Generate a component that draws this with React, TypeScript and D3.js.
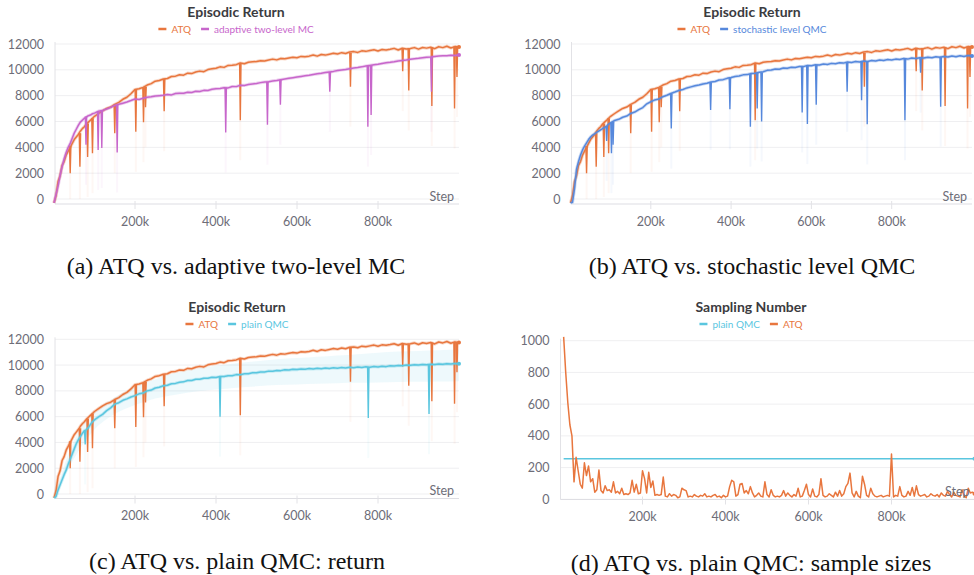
import React from 'react';
import * as d3 from 'd3';

// steps are in thousands
const returnSteps = [...d3.range(0, 100, 5), ...d3.range(100, 1001, 10)];

const atqReturn = [
  -300, 250, 1350, 1800, 2600, 2900, 3400, 3700, 4000, 4300,
  4600, 4800, 5000, 5250, 5450, 5600, 5800, 5950, 6100, 6250,
  6400, 6620, 6830, 7010, 7120, 7330, 7480, 7720, 7880, 8150,
  8480, 8530, 8640, 8820, 8930, 9120, 9180, 9290, 9330, 9480,
  9510, 9620, 9590, 9740, 9710, 9830, 9900, 9860, 10020, 10080,
  10120, 10230, 10190, 10340, 10360, 10400, 10530, 10470, 10590, 10620,
  10640, 10710, 10690, 10760, 10830, 10770, 10880, 10850, 10920, 10970,
  10930, 11040, 11010, 11060, 11150, 11060, 11190, 11140, 11210, 11280,
  11230, 11330, 11270, 11380, 11410, 11350, 11470, 11430, 11490, 11550,
  11460, 11570, 11530, 11590, 11660, 11540, 11670, 11610, 11650, 11720,
  11600, 11730, 11680, 11750, 11640, 11790, 11720, 11830, 11690, 11800,
  11760,
];

const mcReturn = [
  -300, 350, 1000, 1800, 2500, 3100, 3600, 4000, 4300, 4700,
  5100, 5400, 5700, 5950, 6100, 6250, 6350, 6450, 6500, 6600,
  6650, 6800, 6860, 6970, 7090, 7250, 7330, 7420, 7510, 7620,
  7740, 7710, 7800, 7870, 7910, 7970, 8000, 8030, 8090, 8060,
  8170, 8190, 8180, 8270, 8250, 8340, 8330, 8410, 8400, 8490,
  8540, 8550, 8620, 8600, 8710, 8700, 8800, 8790, 8870, 8910,
  8950, 9010, 9050, 9080, 9140, 9180, 9240, 9290, 9340, 9390,
  9440, 9490, 9540, 9580, 9640, 9690, 9730, 9790, 9840, 9880,
  9940, 9990, 10030, 10090, 10140, 10180, 10230, 10290, 10340, 10390,
  10430, 10490, 10540, 10580, 10630, 10690, 10730, 10770, 10820, 10860,
  10890, 10930, 10970, 11000, 11040, 11070, 11090, 11090, 11120, 11110,
  11150,
];

const slqmcReturn = [
  -300, -250, 800, 2300, 2900, 3400, 3800, 4100, 4350, 4600,
  4800, 4950, 5050, 5150, 5250, 5350, 5450, 5550, 5650, 5800,
  5900, 6080, 6170, 6330, 6420, 6620, 6730, 6920, 7080, 7370,
  7530, 7670, 7740, 7920, 8030, 8170, 8280, 8400, 8480, 8600,
  8680, 8760, 8830, 8910, 8960, 9060, 9100, 9210, 9240, 9340,
  9400, 9490, 9530, 9610, 9630, 9720, 9730, 9810, 9850, 9960,
  9980, 10060, 10050, 10140, 10120, 10200, 10180, 10260, 10250, 10330,
  10320, 10390, 10370, 10450, 10420, 10500, 10470, 10550, 10520, 10600,
  10570, 10640, 10610, 10680, 10650, 10720, 10690, 10760, 10730, 10800,
  10760, 10830, 10800, 10870, 10830, 10910, 10870, 10940, 10910, 10980,
  10940, 11010, 10970, 11040, 11000, 11070, 11020, 11090, 11040, 11110,
  11080,
];

const qmcReturn = [
  -300, -200, 300, 700, 1100, 1500, 1850, 2300, 2700, 3100,
  3500, 3900, 4200, 4450, 4700, 4900, 5000, 5150, 5400, 5600,
  5750, 5980, 6180, 6470, 6680, 6970, 7080, 7270, 7380, 7520,
  7630, 7770, 7830, 8000, 8060, 8220, 8280, 8400, 8430, 8550,
  8580, 8670, 8700, 8800, 8810, 8900, 8900, 8980, 8980, 9050,
  9040, 9120, 9110, 9180, 9180, 9260, 9250, 9320, 9330, 9410,
  9400, 9470, 9460, 9530, 9520, 9580, 9570, 9630, 9610, 9670,
  9650, 9700, 9680, 9730, 9700, 9750, 9720, 9770, 9740, 9790,
  9760, 9810, 9780, 9830, 9800, 9850, 9820, 9870, 9840, 9890,
  9860, 9910, 9880, 9940, 9920, 9970, 9950, 10000, 9980, 10030,
  10000, 10050, 10020, 10070, 10040, 10090, 10060, 10110, 10080, 10130,
  10110,
];

// [step, value before the dip, bottom of the dip]
const atqDips = [
  [40, 4100, 2000], [64, 5100, 2500], [83, 5850, 3250], [95, 6250, 3550],
  [150, 7300, 5100], [202, 8480, 5200], [221, 8640, 5950], [226, 8700, 7100],
  [272, 9290, 6800], [460, 10530, 6100], [732, 11330, 8700], [861, 11670, 9900],
  [876, 11610, 8400], [933, 11750, 7200], [989, 11800, 7000], [995, 11780, 9450],
];
const mcDips = [
  [79, 6380, 4200], [109, 6800, 3800], [118, 6860, 3950], [156, 7300, 3600],
  [424, 8620, 5150], [527, 9080, 5750], [559, 9240, 7300], [681, 9840, 8300],
  [775, 10320, 5600], [783, 10360, 6500], [932, 10990, 8300],
];
const slqmcDips = [
  [90, 5650, 4500], [102, 5950, 3550], [106, 6000, 4200], [251, 8150, 5450],
  [349, 9040, 6900], [397, 9400, 6950], [448, 9680, 5600], [465, 9770, 7000],
  [476, 9820, 6000], [577, 10270, 6700], [590, 10310, 5800], [612, 10380, 7300],
  [689, 10570, 8300], [725, 10650, 7650], [739, 10680, 5780], [833, 10840, 6100],
  [872, 10900, 9780], [922, 11010, 7150],
];
const qmcDips = [
  [77, 4950, 3850], [410, 9100, 6000], [776, 9850, 5900], [926, 10060, 6200],
];

// min / max band of plain QMC
const qmcBandSteps = d3.range(0, 1001, 50);
const qmcBandLow = [
  -300, 2800, 5000, 6200, 6900, 7400, 7700, 7950, 8100, 8250, 8350,
  8450, 8500, 8550, 8600, 8620, 8650, 8680, 8700, 8720, 8750,
];
const qmcBandHigh = [
  -300, 4200, 6300, 7500, 8300, 8900, 9400, 9700, 9950, 10150, 10300,
  10450, 10550, 10650, 10750, 10850, 10950, 11050, 11100, 11150, 11200,
];

const samplingSteps = d3.range(10, 1001, 5);
const atqSampling = [
  1024, 800, 610, 470, 400, 110, 265, 180, 95, 70,
  230, 150, 210, 110, 130, 45, 60, 185, 55, 40,
  85, 55, 60, 45, 110, 40, 50, 35, 70, 30,
  35, 30, 40, 120, 45, 95, 35, 40, 180, 130,
  40, 170, 75, 115, 25, 30, 25, 30, 140, 20,
  15, 35, 20, 30, 25, 10, 15, 70, 60, 55,
  15, 20, 15, 30, 20, 15, 25, 20, 35, 15,
  20, 15, 25, 30, 15, 20, 10, 25, 15, 20,
  80, 120, 110, 20, 30, 95, 100, 40, 55, 35,
  80, 40, 15, 25, 40, 20, 15, 110, 30, 15,
  60, 25, 15, 20, 15, 25, 55, 20, 40, 25,
  15, 30, 20, 70, 15, 20, 55, 95, 30, 15,
  65, 20, 15, 30, 130, 25, 15, 20, 35, 25,
  15, 45, 20, 55, 20, 35, 80, 100, 165, 40,
  15, 50, 20, 10, 145, 95, 25, 15, 70, 35,
  20, 15, 20, 25, 15, 20, 25, 20, 285, 15,
  25, 20, 80, 25, 15, 20, 50, 25, 75, 20,
  85, 30, 20, 25, 30, 15, 20, 35, 25, 20,
  30, 15, 40, 25, 20, 50, 30, 15, 45, 25,
  20, 15, 60, 20, 10, 70, 40, 45, 35,
];
const qmcSamplingSteps = [10, 1000];
const qmcSampling = [256, 256];

const returnTicks = [0, 2000, 4000, 6000, 8000, 10000, 12000];
const samplingTicks = [0, 200, 400, 600, 800, 1000];
const stepTicks = [200, 400, 600, 800];

const ORANGE = '#e8763e';
const PURPLE = '#c766cb';
const BLUE = '#5688dc';
const CYAN = '#5ac6df';

const UI_FONT = 'Lato, "Noto Sans", sans-serif';
const AXIS_COLOR = '#6d6d78';

let measureCtx: CanvasRenderingContext2D | null = null;
function textWidth(t: string, font: string) {
  if (!measureCtx) measureCtx = document.createElement('canvas').getContext('2d');
  if (!measureCtx) return t.length * 5.5;
  measureCtx.font = font;
  return measureCtx.measureText(t).width;
}

type Series = {
  name: string;
  color: string;
  steps: number[];
  values: number[];
  dips?: number[][];
  band?: { steps: number[]; low: number[]; high: number[] };
  fuzz?: boolean;
};

type PanelProps = {
  x0: number;
  x1: number;
  y0: number;
  yTop: number;
  axisY: number;
  yMax: number;
  yTicks: number[];
  title: string;
  cx: number;
  titleY: number;
  legendY: number;
  series: Series[];
  legend: Series[];
  caption: string;
  captionY: number;
};

function Panel(p: PanelProps) {
  const x = d3.scaleLinear().domain([0, 1000]).range([p.x0, p.x1]);
  const y = d3.scaleLinear().domain([0, p.yMax]).range([p.y0, p.yTop]);

  const path = (steps: number[], values: number[]) =>
    d3
      .line<number>()
      .x((_, i) => x(steps[i]))
      .y((v) => y(v))(values) || '';

  const area = (b: { steps: number[]; low: number[]; high: number[] }) =>
    d3
      .area<number>()
      .x((_, i) => x(b.steps[i]))
      .y0((_, i) => y(b.low[i]))
      .y1((_, i) => y(b.high[i]))
      .curve(d3.curveMonotoneX)(b.steps) || '';

  const legendFont = `10px ${UI_FONT}`;
  const dash = 8;
  const gapIn = 5;
  const gapOut = 10;
  const widths = p.legend.map((s) => textWidth(s.name, legendFont));
  const total =
    widths.reduce((acc, w) => acc + dash + gapIn + w, 0) + gapOut * (p.legend.length - 1);
  let lx = p.cx - total / 2;
  const legendItems = p.legend.map((s, i) => {
    const start = lx;
    lx += dash + gapIn + widths[i] + gapOut;
    return { s, start };
  });

  const leftAxis = p.x0 + 1;

  return (
    <g>
      {p.yTicks.map((t) => (
        <line
          key={'g' + t}
          x1={leftAxis}
          x2={p.x1}
          y1={y(t)}
          y2={y(t)}
          stroke="#efeff1"
          strokeWidth={1}
        />
      ))}
      <line x1={leftAxis} x2={leftAxis} y1={p.yTop - 2} y2={p.axisY} stroke="#e2e2e6" />
      <line x1={leftAxis} x2={p.x1} y1={p.axisY} y2={p.axisY} stroke="#dedee3" strokeWidth={1.2} />
      {stepTicks.map((t) => (
        <line
          key={'xt' + t}
          x1={x(t)}
          x2={x(t)}
          y1={p.axisY - 3}
          y2={p.axisY + 5}
          stroke="#e2e2e6"
        />
      ))}
      {p.yTicks.map((t) => (
        <text
          key={'yl' + t}
          x={leftAxis - 11}
          y={y(t)}
          textAnchor="end"
          dominantBaseline="central"
          fontFamily={UI_FONT}
          fontSize={12.5}
          fill={AXIS_COLOR}
        >
          {t}
        </text>
      ))}
      {stepTicks.map((t) => (
        <text
          key={'xl' + t}
          x={x(t)}
          y={p.axisY + 17}
          textAnchor="middle"
          dominantBaseline="central"
          fontFamily={UI_FONT}
          fontSize={12.5}
          fill={AXIS_COLOR}
        >
          {t}k
        </text>
      ))}

      {p.series.map((s) =>
        s.band ? (
          <path key={'b' + s.name} d={area(s.band)} fill={s.color} fillOpacity={0.1} />
        ) : null
      )}
      {p.series.map((s) => (
        <g key={s.name}>
          {s.fuzz && (
            <path
              d={path(s.steps, s.values)}
              fill="none"
              stroke={s.color}
              strokeOpacity={0.3}
              strokeWidth={3.2}
              strokeLinejoin="round"
            />
          )}
          <path
            d={path(s.steps, s.values)}
            fill="none"
            stroke={s.color}
            strokeWidth={1.5}
            strokeLinejoin="round"
          />
          {(s.dips || []).map((d, i) => (
            <g key={i}>
              <line
                x1={x(d[0])}
                x2={x(d[0])}
                y1={y(d[2])}
                y2={Math.min(p.y0, y(d[2]) + 40)}
                stroke={s.color}
                strokeOpacity={0.06}
                strokeWidth={2}
              />
              <path
                d={`M${x(d[0]) - 0.7},${y(d[1])}L${x(d[0])},${y(d[2])}L${x(d[0]) + 0.7},${y(d[1])}`}
                fill="none"
                stroke={s.color}
                strokeWidth={1.4}
              />
            </g>
          ))}
          <circle
            cx={x(s.steps[s.steps.length - 1])}
            cy={y(s.values[s.values.length - 1])}
            r={2}
            fill={s.color}
          />
        </g>
      ))}

      <text
        x={p.x1 - 5}
        y={p.axisY - 8}
        textAnchor="end"
        dominantBaseline="central"
        fontFamily={UI_FONT}
        fontSize={12.5}
        fill={AXIS_COLOR}
      >
        Step
      </text>

      <text
        x={p.cx}
        y={p.titleY}
        textAnchor="middle"
        dominantBaseline="central"
        fontFamily={UI_FONT}
        fontWeight="bold"
        fontSize={14}
        fill="#3b3b40"
      >
        {p.title}
      </text>
      {legendItems.map(({ s, start }) => (
        <g key={'l' + s.name}>
          <line
            x1={start}
            x2={start + dash}
            y1={p.legendY}
            y2={p.legendY}
            stroke={s.color}
            strokeWidth={2.5}
          />
          <text
            x={start + dash + gapIn}
            y={p.legendY}
            dominantBaseline="central"
            fontFamily={UI_FONT}
            fontSize={10}
            fill={s.color}
          >
            {s.name}
          </text>
        </g>
      ))}

      <text
        x={p.cx}
        y={p.captionY}
        textAnchor="middle"
        dominantBaseline="central"
        fontFamily='"Liberation Serif", "Times New Roman", serif'
        fontSize={24}
        fill="#111"
      >
        {p.caption}
      </text>
    </g>
  );
}

const atqSeries: Series = {
  name: 'ATQ',
  color: ORANGE,
  steps: returnSteps,
  values: atqReturn,
  dips: atqDips,
  fuzz: true,
};
const mcSeries: Series = {
  name: 'adaptive two-level MC',
  color: PURPLE,
  steps: returnSteps,
  values: mcReturn,
  dips: mcDips,
  fuzz: true,
};
const slqmcSeries: Series = {
  name: 'stochastic level QMC',
  color: BLUE,
  steps: returnSteps,
  values: slqmcReturn,
  dips: slqmcDips,
  fuzz: true,
};
const qmcSeries: Series = {
  name: 'plain QMC',
  color: CYAN,
  steps: returnSteps,
  values: qmcReturn,
  dips: qmcDips,
  band: { steps: qmcBandSteps, low: qmcBandLow, high: qmcBandHigh },
  fuzz: true,
};
const qmcSamplingSeries: Series = {
  name: 'plain QMC',
  color: CYAN,
  steps: qmcSamplingSteps,
  values: qmcSampling,
};
const atqSamplingSeries: Series = {
  name: 'ATQ',
  color: ORANGE,
  steps: samplingSteps,
  values: atqSampling,
};

export default function App() {
  return (
    <div style={{ position: 'absolute', left: 0, top: 0 }}>
      <svg width={974} height={575} style={{ display: 'block', background: '#fff' }}>
        <Panel
          x0={54}
          x1={459}
          y0={199}
          yTop={44}
          axisY={204}
          yMax={12000}
          yTicks={returnTicks}
          title="Episodic Return"
          cx={236}
          titleY={11}
          legendY={29}
          series={[atqSeries, mcSeries]}
          legend={[atqSeries, mcSeries]}
          caption="(a) ATQ vs. adaptive two-level MC"
          captionY={266}
        />
        <Panel
          x0={570.5}
          x1={972}
          y0={199}
          yTop={44}
          axisY={204}
          yMax={12000}
          yTicks={returnTicks}
          title="Episodic Return"
          cx={752}
          titleY={11}
          legendY={29}
          series={[atqSeries, slqmcSeries]}
          legend={[atqSeries, slqmcSeries]}
          caption="(b) ATQ vs. stochastic level QMC"
          captionY={266}
        />
        <Panel
          x0={54}
          x1={459}
          y0={494}
          yTop={339.3}
          axisY={498.5}
          yMax={12000}
          yTicks={returnTicks}
          title="Episodic Return"
          cx={237}
          titleY={306}
          legendY={324}
          series={[atqSeries, qmcSeries]}
          legend={[atqSeries, qmcSeries]}
          caption="(c) ATQ vs. plain QMC: return"
          captionY={561}
        />
        <Panel
          x0={559.5}
          x1={974.5}
          y0={499.3}
          yTop={340.7}
          axisY={499.5}
          yMax={1000}
          yTicks={samplingTicks}
          title="Sampling Number"
          cx={751}
          titleY={306}
          legendY={324}
          series={[qmcSamplingSeries, atqSamplingSeries]}
          legend={[qmcSamplingSeries, atqSamplingSeries]}
          caption="(d) ATQ vs. plain QMC: sample sizes"
          captionY={563}
        />
      </svg>
    </div>
  );
}
